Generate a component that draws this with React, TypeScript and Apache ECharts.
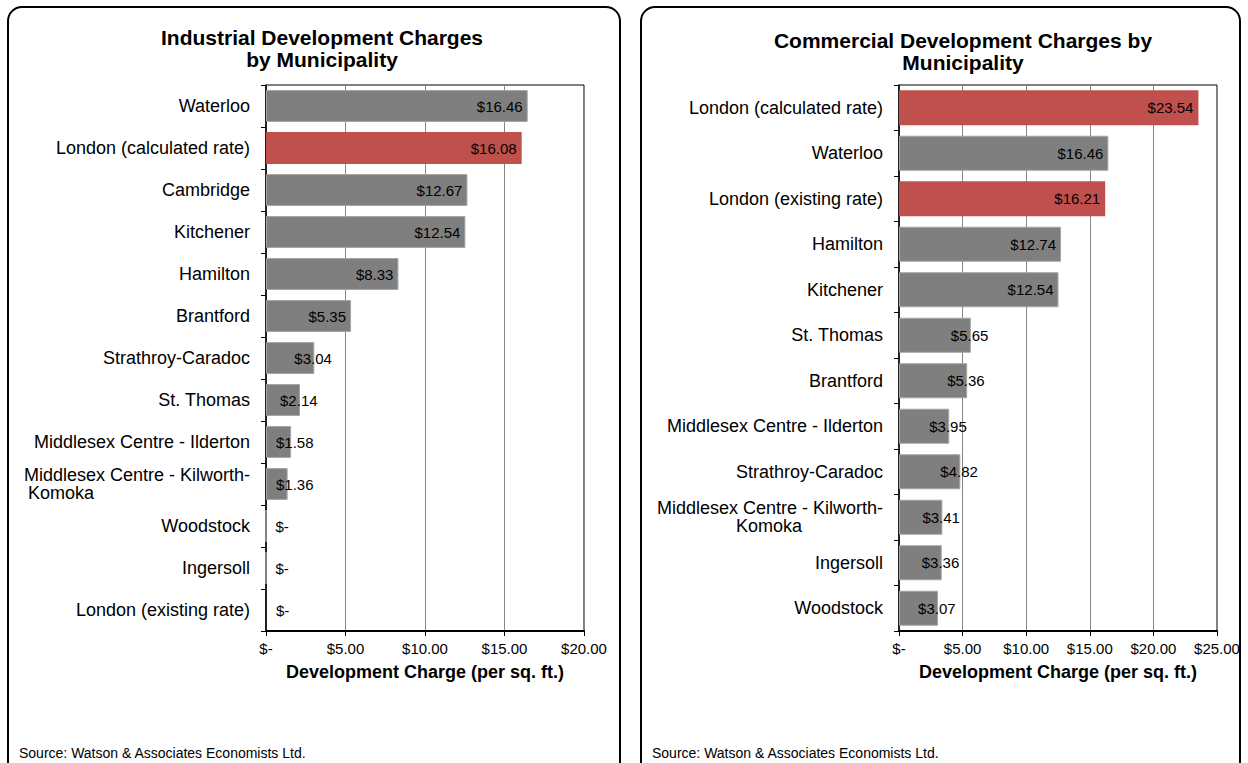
import React, { useEffect, useRef } from "react";
import * as echarts from "echarts";

const industrialCategories = [
  "Waterloo",
  "London (calculated rate)",
  "Cambridge",
  "Kitchener",
  "Hamilton",
  "Brantford",
  "Strathroy-Caradoc",
  "St. Thomas",
  "Middlesex Centre - Ilderton",
  "Middlesex Centre - Kilworth-Komoka",
  "Woodstock",
  "Ingersoll",
  "London (existing rate)",
];
const industrialValues = [16.46, 16.08, 12.67, 12.54, 8.33, 5.35, 3.04, 2.14, 1.58, 1.36, 0, 0, 0];

const commercialCategories = [
  "London (calculated rate)",
  "Waterloo",
  "London (existing rate)",
  "Hamilton",
  "Kitchener",
  "St. Thomas",
  "Brantford",
  "Middlesex Centre - Ilderton",
  "Strathroy-Caradoc",
  "Middlesex Centre - Kilworth-Komoka",
  "Ingersoll",
  "Woodstock",
];
const commercialValues = [23.54, 16.46, 16.21, 12.74, 12.54, 5.65, 5.36, 3.95, 4.82, 3.41, 3.36, 3.07];

const industrialMax = 20;
const commercialMax = 25;

const titleIndustrial = "Industrial Development Charges\nby Municipality";
const titleCommercial = "Commercial Development Charges by\nMunicipality";
const axisName = "Development Charge (per sq. ft.)";
const sourceText = "Source: Watson & Associates Economists Ltd.";

const FONT = "'Liberation Sans', Arial, Helvetica, sans-serif";
const GRAY = "#7f7f7f";
const RED = "#c0504d";
const PLOT_W = 318;

function money(v: number) {
  return v === 0 ? "$-" : "$" + v.toFixed(2);
}

function buildData(cats: string[], vals: number[], max: number) {
  const pxPer = PLOT_W / max;
  return vals.map((v, i) => {
    const red = cats[i].startsWith("London");
    const w = v * pxPer;
    let label: any;
    if (w >= 80) label = { position: "insideRight", distance: 5 };
    else if (w >= 30) label = { position: "right", distance: -20 };
    else label = { position: "insideLeft", distance: 10 };
    return {
      value: v,
      itemStyle: red
        ? { color: RED, borderWidth: 0 }
        : { color: GRAY, borderColor: "#a6a6a6", borderWidth: 1 },
      label,
    };
  });
}

function yAxis(gridIndex: number, cats: string[], kPad: number) {
  return {
    type: "category",
    gridIndex,
    inverse: true,
    data: cats,
    axisLine: { show: true, lineStyle: { color: "#000", width: 1.5 } },
    axisTick: { show: true, length: 5, lineStyle: { color: "#000" } },
    axisLabel: {
      color: "#000",
      fontFamily: FONT,
      fontSize: 18,
      margin: 16,
      lineHeight: 18,
      formatter: (v: string) =>
        v === "Middlesex Centre - Kilworth-Komoka" ? "Middlesex Centre - Kilworth-\n{k|Komoka}" : v,
      rich: {
        k: {
          align: "left",
          padding: [0, 0, 0, kPad],
          fontSize: 18,
          fontFamily: FONT,
          color: "#000",
          lineHeight: 18,
        },
      },
    },
    splitLine: { show: false },
  };
}

function xAxis(gridIndex: number, max: number) {
  return {
    type: "value",
    gridIndex,
    min: 0,
    max,
    interval: 5,
    name: axisName,
    nameLocation: "middle",
    nameGap: 32,
    nameTextStyle: { fontFamily: FONT, fontSize: 18, fontWeight: "bold", color: "#000" },
    axisLine: { show: true, lineStyle: { color: "#000", width: 2 } },
    axisTick: { show: true, length: 5, lineStyle: { color: "#000" } },
    axisLabel: {
      color: "#000",
      fontFamily: FONT,
      fontSize: 15,
      margin: 10,
      formatter: (v: number) => money(v),
    },
    splitLine: { show: true, lineStyle: { color: "#868686", width: 1 } },
  };
}

export default function App() {
  const ref = useRef<HTMLDivElement>(null);
  useEffect(() => {
    if (!ref.current) return;
    const chart = echarts.init(ref.current, undefined, { renderer: "svg" });
    const labelStyle = {
      show: true,
      color: "#000",
      fontFamily: FONT,
      fontSize: 15,
      formatter: (p: any) => money(p.value),
    };
    const titleStyle = { fontFamily: FONT, fontSize: 21, fontWeight: "bold", color: "#000", lineHeight: 22 };
    chart.setOption({
      animation: false,
      backgroundColor: "#fff",
      title: [
        { text: titleIndustrial, left: 317, top: 21, textAlign: "center", textStyle: titleStyle },
        { text: titleCommercial, left: 958, top: 24, textAlign: "center", textStyle: titleStyle },
      ],
      grid: [
        { left: 266, top: 85, width: PLOT_W, height: 546, show: true, borderColor: "#000", borderWidth: 1, backgroundColor: "transparent" },
        { left: 899, top: 85, width: PLOT_W, height: 546, show: true, borderColor: "#000", borderWidth: 1, backgroundColor: "transparent" },
      ],
      xAxis: [xAxis(0, industrialMax), xAxis(1, commercialMax)],
      yAxis: [yAxis(0, industrialCategories, 4), yAxis(1, commercialCategories, 79)],
      series: [
        {
          type: "bar",
          xAxisIndex: 0,
          yAxisIndex: 0,
          barCategoryGap: "24%",
          data: buildData(industrialCategories, industrialValues, industrialMax),
          label: labelStyle,
        },
        {
          type: "bar",
          xAxisIndex: 1,
          yAxisIndex: 1,
          barCategoryGap: "23%",
          data: buildData(commercialCategories, commercialValues, commercialMax),
          label: labelStyle,
        },
      ],
      graphic: [
        {
          type: "rect",
          shape: { x: 8, y: 7, width: 612, height: 800, r: 14 },
          style: { fill: "none", stroke: "#000", lineWidth: 2 },
          silent: true,
        },
        {
          type: "rect",
          shape: { x: 641, y: 7, width: 599, height: 800, r: 14 },
          style: { fill: "none", stroke: "#000", lineWidth: 2 },
          silent: true,
        },
        {
          type: "text",
          x: 19,
          y: 753,
          style: { text: sourceText, fontFamily: FONT, fontSize: 14, fill: "#000", textVerticalAlign: "middle" },
          silent: true,
        },
        {
          type: "text",
          x: 652,
          y: 753,
          style: { text: sourceText, fontFamily: FONT, fontSize: 14, fill: "#000", textVerticalAlign: "middle" },
          silent: true,
        },
      ],
    });
    return () => chart.dispose();
  }, []);
  return (
    <div
      ref={ref}
      style={{ position: "fixed", left: 0, top: 0, width: 1248, height: 763, background: "#fff" }}
    />
  );
}
